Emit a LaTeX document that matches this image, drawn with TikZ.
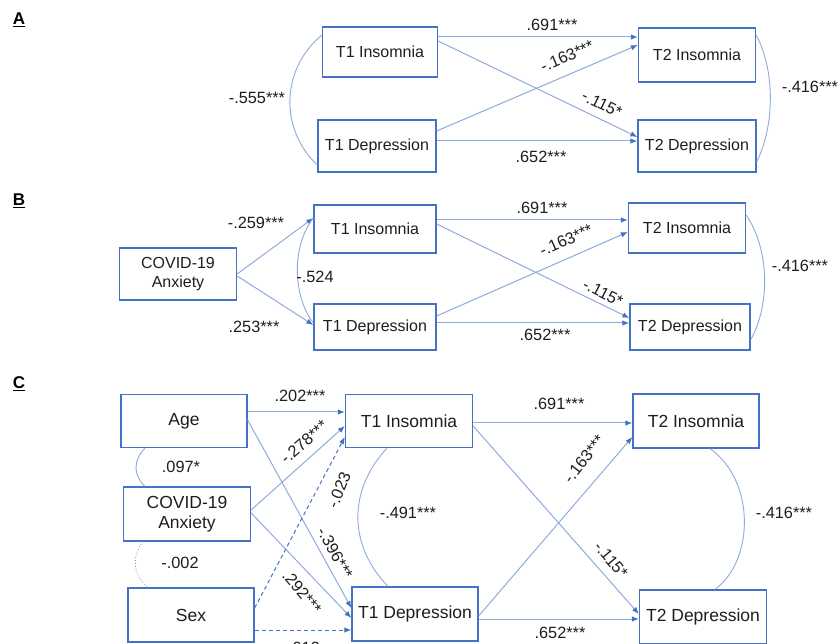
\documentclass[tikz,border=0pt]{standalone}
\usepackage{fontspec}
\setmainfont{Liberation Sans}
\usetikzlibrary{arrows.meta}
\definecolor{boxblue}{RGB}{68,114,196}
\definecolor{lineblue}{RGB}{143,170,220}
\definecolor{inkgray}{RGB}{30,30,30}

\begin{document}
\begin{tikzpicture}[x=1pt, y=-1pt,
    box/.style={draw=boxblue, line width=1.3pt, inner sep=0pt, align=center, text=inkgray},
    boxab/.style={box, font=\fontsize{16}{18.5}\selectfont},
    boxc/.style={box, font=\fontsize{17.5}{20.5}\selectfont},
    effect/.style={draw=lineblue, line width=1pt, -{Latex[length=7pt, width=5.5pt, color=boxblue]}},
    nseffect/.style={effect, draw=boxblue, dash pattern=on 4pt off 3pt},
    cov/.style={draw=lineblue, line width=0.9pt},
    nscov/.style={draw=lineblue!70!gray, line width=0.9pt, dotted},
    coef/.style={text=inkgray, inner sep=1pt, font=\fontsize{16.3}{18}\selectfont},
    panel/.style={text=black, font=\fontsize{17}{19}\selectfont\bfseries}]
  \useasboundingbox[fill=white] (0,0) rectangle (839,644);

  % A
  \node[panel] (pA) at (19,20) {\underline{A}};
  \node[boxab, minimum width=115pt, minimum height=50pt] (A1ins) at (380,52) {T1 Insomnia};
  \node[boxab, minimum width=118pt, minimum height=52pt] (A1dep) at (377,146) {T1 Depression};
  \node[boxab, minimum width=117pt, minimum height=54pt] (A2ins) at (697,55) {T2 Insomnia};
  \node[boxab, minimum width=118pt, minimum height=52pt] (A2dep) at (697,146) {T2 Depression};
  \draw[effect] (A1ins.east |- 0,37) -- (A2ins.west |- 0,37);
  \draw[effect] (A1ins.east |- 0,41) -- (A2dep.west |- 0,137);
  \draw[effect] (A1dep.east |- 0,131) -- (A2ins.west |- 0,45);
  \draw[effect] (A1dep.east |- 0,141) -- (A2dep.west |- 0,141);
  \draw[cov] (A1ins.west |- 0,35) .. controls (280,70) and (280,130) .. (A1dep.west |- 0,165);
  \draw[cov] (A2ins.east |- 0,35) .. controls (775,70) and (775,125) .. (A2dep.east |- 0,162);
  \node[coef] (a1) at (552,25) {.691***};
  \node[coef, rotate=23] (a2) at (567,56) {-.163***};
  \node[coef, rotate=-26] (a3) at (602,104) {-.115*};
  \node[coef] (a4) at (541,157) {.652***};
  \node[coef] (a5) at (257,98) {-.555***};
  \node[coef] (a6) at (810,87) {-.416***};

  % B
  \node[panel] (pB) at (19,201) {\underline{B}};
  \node[boxab, minimum width=117pt, minimum height=52pt] (Bcov) at (178,274) {COVID-19\\Anxiety};
  \node[boxab, minimum width=122pt, minimum height=48pt] (B1ins) at (375,229) {T1 Insomnia};
  \node[boxab, minimum width=122pt, minimum height=46pt] (B1dep) at (375,327) {T1 Depression};
  \node[boxab, minimum width=117pt, minimum height=50pt] (B2ins) at (687,228) {T2 Insomnia};
  \node[boxab, minimum width=120pt, minimum height=46pt] (B2dep) at (690,327) {T2 Depression};
  \draw[effect] (Bcov.east |- 0,274) -- (B1ins.west |- 0,218);
  \draw[effect] (Bcov.east |- 0,276) -- (B1dep.west |- 0,325);
  \draw[effect] (B1ins.east |- 0,220) -- (B2ins.west |- 0,220);
  \draw[effect] (B1ins.east |- 0,224) -- (B2dep.west |- 0,318);
  \draw[effect] (B1dep.east |- 0,316) -- (B2ins.west |- 0,232);
  \draw[effect] (B1dep.east |- 0,323) -- (B2dep.west |- 0,323);
  \draw[cov] (B1ins.west |- 0,218) .. controls (292,245) and (292,295) .. (B1dep.west |- 0,323);
  \draw[cov] (B2ins.east |- 0,215) .. controls (770,250) and (770,305) .. (B2dep.east |- 0,340);
  \node[coef] (b1) at (256,223) {-.259***};
  \node[coef] (b2) at (254,327) {.253***};
  \node[coef] (b3) at (315,277) {-.524};
  \node[coef] (b4) at (542,208) {.691***};
  \node[coef, rotate=24] (b5) at (566,240) {-.163***};
  \node[coef, rotate=-27] (b6) at (603,293) {-.115*};
  \node[coef] (b7) at (545,335) {.652***};
  \node[coef] (b8) at (800,266) {-.416***};

  % C
  \node[panel] (pC) at (19,384) {\underline{C}};
  \node[boxc, minimum width=126pt, minimum height=53pt] (Cage) at (184,421) {Age};
  \node[boxc, minimum width=127pt, minimum height=54pt] (Ccov) at (187,514) {COVID-19\\Anxiety};
  \node[boxc, minimum width=126pt, minimum height=54pt] (Csex) at (191,615) {Sex};
  \node[boxc, minimum width=127pt, minimum height=53pt] (C1ins) at (409,421) {T1 Insomnia};
  \node[boxc, minimum width=126pt, minimum height=54pt] (C1dep) at (415,614) {T1 Depression};
  \node[boxc, minimum width=126pt, minimum height=54pt] (C2ins) at (696,421) {T2 Insomnia};
  \node[boxc, minimum width=127pt, minimum height=54pt] (C2dep) at (703,617) {T2 Depression};
  \draw[effect] (Cage.east |- 0,412) -- (C1ins.west |- 0,412);
  \draw[effect] (Cage.east |- 0,420) -- (C1dep.west |- 0,608);
  \draw[effect] (Ccov.east |- 0,510) -- (C1ins.west |- 0,426);
  \draw[effect] (Ccov.east |- 0,513) -- (C1dep.west |- 0,618);
  \draw[nseffect] (Csex.east |- 0,608) -- (C1ins.west |- 0,437);
  \draw[nseffect] (Csex.east |- 0,630) -- (C1dep.west |- 0,630);
  \draw[effect] (C1ins.east |- 0,423) -- (C2ins.west |- 0,423);
  \draw[effect] (C1ins.east |- 0,426) -- (C2dep.west |- 0,614);
  \draw[effect] (C1dep.east |- 0,616) -- (C2ins.west |- 0,437);
  \draw[effect] (C1dep.east |- 0,619) -- (C2dep.west |- 0,619);
  \draw[cov] (Cage.south -| 145,0) .. controls (133,460) and (133,475) .. (Ccov.north -| 145,0);
  \draw[nscov] (Ccov.south -| 143,0) .. controls (132,555) and (132,575) .. (Csex.north -| 148,0);
  \draw[cov] (C1ins.south -| 387,0) .. controls (348,490) and (348,545) .. (C1dep.north -| 388,0);
  \draw[cov] (C2ins.south -| 710,0) .. controls (755,480) and (755,560) .. (C2dep.north -| 715,0);
  \node[coef] (c1) at (300,396) {.202***};
  \node[coef, rotate=41] (c2) at (304,442) {-.278***};
  \node[coef, rotate=68] (c3) at (339,490) {-.023};
  \node[coef, rotate=-61] (c4) at (335,553) {-.396***};
  \node[coef, rotate=-50] (c5) at (302,592) {.292***};
  \node[coef] (c6) at (304,648) {.013};
  \node[coef] (c7) at (181,467) {.097*};
  \node[coef] (c8) at (180,563) {-.002};
  \node[coef] (c9) at (408,513) {-.491***};
  \node[coef] (c10) at (559,404) {.691***};
  \node[coef, rotate=52] (c11) at (584,459) {-.163***};
  \node[coef, rotate=-50] (c12) at (611,560) {-.115*};
  \node[coef] (c13) at (560,633) {.652***};
  \node[coef] (c14) at (784,513) {-.416***};
\end{tikzpicture}
\end{document}
